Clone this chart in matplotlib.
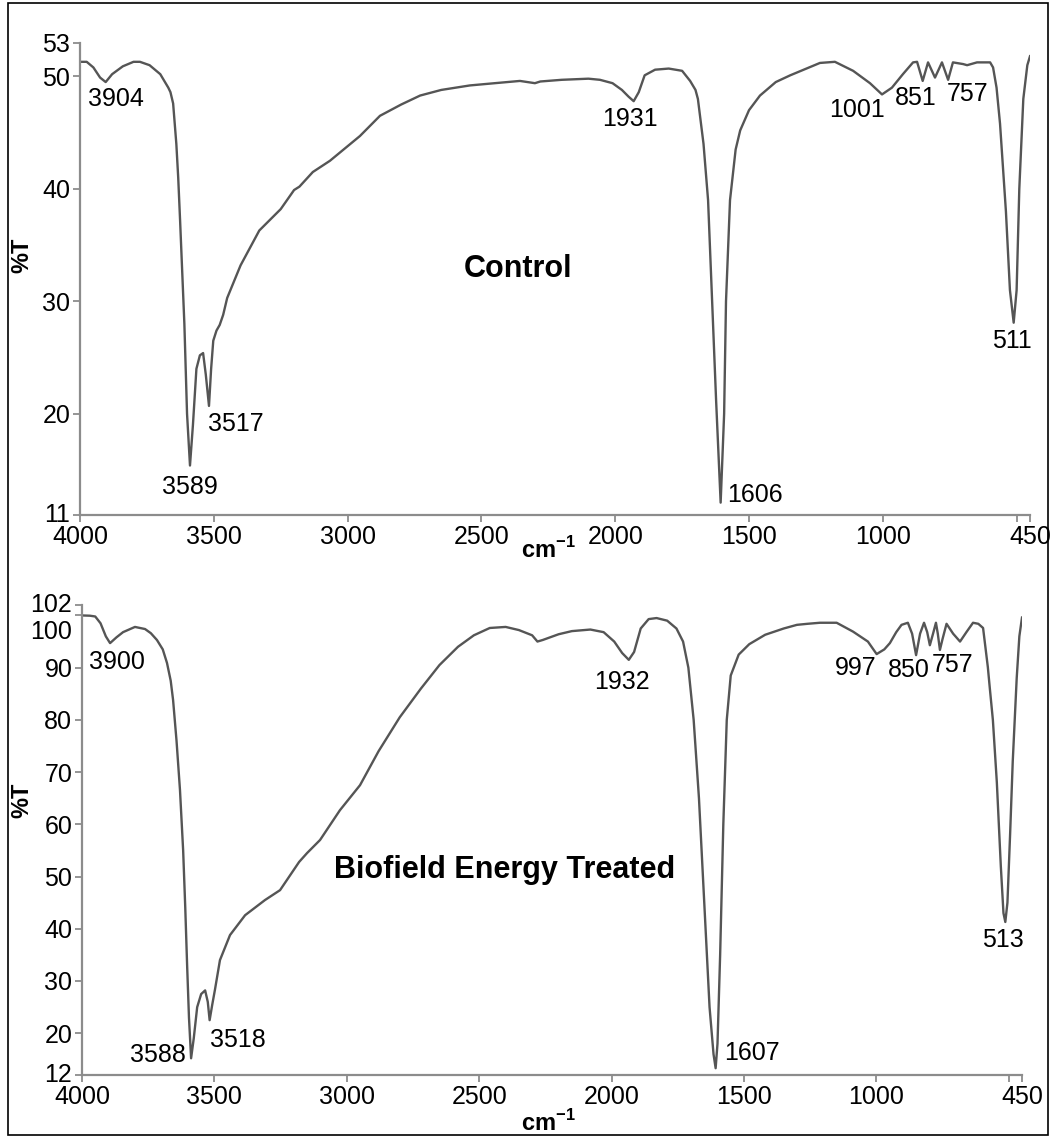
import numpy as np
import matplotlib
matplotlib.use('Agg')
import matplotlib.pyplot as plt
from matplotlib.patches import Rectangle
from matplotlib.transforms import ScaledTranslation

plt.rcParams['font.family'] = ['Liberation Sans', 'DejaVu Sans']
plt.rcParams['mathtext.fontset'] = 'custom'
plt.rcParams['mathtext.rm'] = 'Liberation Sans'
plt.rcParams['mathtext.bf'] = 'Liberation Sans:bold'

# Control spectrum (wavenumber cm-1, %T)
ctrl_wn = [4000, 3975, 3950, 3925, 3904, 3880, 3840, 3800, 3776, 3740, 3700, 3670,
           3662, 3652, 3640, 3633, 3626, 3610, 3600, 3589, 3578, 3565, 3552, 3540, 3530, 3518,
           3510, 3502, 3490, 3478, 3465, 3450, 3400, 3330, 3250, 3200, 3180, 3130,
           3066, 2954, 2879, 2800, 2729, 2650, 2543, 2450, 2356, 2300, 2280, 2200,
           2100, 2057, 2010, 1975, 1950, 1931, 1912, 1890, 1851, 1800, 1750, 1720,
           1700, 1691, 1670, 1653, 1638, 1623, 1606, 1593, 1586, 1571, 1550, 1533, 1500, 1459, 1400, 1346,
           1235, 1179, 1111, 1048, 1003, 966, 925, 887, 872, 851, 831, 805, 779,
           756, 738, 700, 685, 648, 599, 588, 575, 562, 540, 525, 511, 500, 490, 475,
           460, 450]
ctrl_t = [51.3, 51.3, 50.8, 49.9, 49.5, 50.2, 50.9, 51.3, 51.3, 51.0, 50.2, 49.0,
          48.6, 47.6, 44.0, 41.0, 37.2, 28.0, 20.0, 15.4, 19.0, 24.0, 25.2, 25.4, 23.5, 20.7,
          24.0, 26.5, 27.4, 27.9, 28.8, 30.3, 33.2, 36.3, 38.2, 39.9, 40.2, 41.5,
          42.5, 44.7, 46.5, 47.5, 48.3, 48.8, 49.2, 49.4, 49.6, 49.4, 49.55, 49.7,
          49.8, 49.7, 49.4, 48.8, 48.2, 47.8, 48.6, 50.1, 50.6, 50.7, 50.5, 49.6,
          48.8, 48.0, 44.0, 39.0, 30.1, 21.2, 12.1, 20.0, 30.0, 39.0, 43.5, 45.2, 47.0, 48.3, 49.5, 50.1,
          51.2, 51.3, 50.5, 49.4, 48.4, 49.0, 50.2, 51.25, 51.3, 49.6, 51.25, 49.9, 51.25,
          49.7, 51.25, 51.1, 51.0, 51.25, 51.25, 50.8, 49.0, 45.8, 38.0, 31.0, 28.1, 31.0, 40.0,
          48.0, 51.0, 51.8]

# Biofield energy treated spectrum
treat_wn = [4000, 3970, 3950, 3930, 3910, 3894, 3870, 3845, 3800, 3762, 3740, 3717,
            3695, 3679, 3665, 3656, 3643, 3630, 3618, 3610, 3603, 3596, 3588, 3578,
            3565, 3550, 3535, 3525, 3518, 3508, 3498, 3479, 3441, 3384, 3309, 3252,
            3200, 3180, 3150, 3101, 3026, 2950, 2880, 2800, 2720, 2650, 2580, 2520,
            2460, 2400, 2350, 2300, 2280, 2260, 2200, 2150, 2080, 2030, 1990, 1960,
            1935, 1915, 1890, 1860, 1830, 1790, 1755, 1730, 1710, 1690, 1670, 1650,
            1630, 1615, 1607, 1600, 1590, 1578, 1565, 1550, 1520, 1480, 1420, 1350,
            1300, 1260, 1213, 1150, 1088, 1032, 999, 970, 949, 925, 905, 881, 865,
            850, 835, 820, 808, 798, 786, 775, 768, 760, 750, 735, 710, 684, 660,
            635, 615, 597, 579, 572, 560, 545, 530, 520, 513, 505, 495, 485, 470,
            460, 450]
treat_t = [100.0, 99.95, 99.8, 98.5, 96.0, 94.7, 95.8, 96.8, 97.8, 97.4, 96.6, 95.3,
           93.5, 90.9, 87.5, 83.8, 76.0, 66.6, 55.0, 44.0, 33.0, 23.0, 15.2, 19.0,
           25.0, 27.5, 28.2, 26.0, 22.5, 25.5, 28.3, 34.0, 38.8, 42.6, 45.5, 47.4,
           51.3, 52.8, 54.5, 57.0, 62.7, 67.5, 74.0, 80.5, 86.0, 90.5, 94.0, 96.2,
           97.6, 97.8, 97.2, 96.2, 95.0, 95.3, 96.4, 97.0, 97.3, 96.8, 95.0, 92.8,
           91.5, 93.0, 97.5, 99.3, 99.5, 99.0, 97.5, 95.0, 90.0, 80.0, 65.0, 45.0,
           25.0, 16.0, 13.3, 18.0, 35.0, 60.0, 80.0, 88.5, 92.5, 94.5, 96.3, 97.5,
           98.2, 98.4, 98.6, 98.6, 96.9, 95.0, 92.6, 93.5, 94.7, 96.8, 98.2, 98.6, 96.5,
           92.4, 96.5, 98.6, 96.8, 94.3, 96.5, 98.6, 96.5, 93.4, 95.5, 98.4, 96.5, 95.0, 96.8,
           98.6, 98.4, 97.6, 90.1, 86.3, 80.0, 68.0, 52.0, 43.0, 41.3, 45.0, 58.0, 72.0, 88.0,
           96.0, 99.6]

x_ticks = [4000, 3500, 3000, 2500, 2000, 1500, 1000, 500, 450]
x_labels = ['4000', '3500', '3000', '2500', '2000', '1500', '1000', '', '450']
ctrl_yticks = [11, 20, 30, 40, 50, 53]
treat_yticks = [12, 20, 30, 40, 50, 60, 70, 80, 90, 100, 102]

# peak labels: text, wavenumber, %T
ctrl_peaks = [('3904', 3865, 48.0), ('3589', 3589, 13.5), ('3517', 3417, 19.1),
              ('1931', 1945, 46.25), ('1606', 1478, 12.8), ('1001', 1096, 47.0),
              ('851', 876, 48.1), ('757', 682, 48.4), ('511', 517, 26.5)]
treat_peaks = [('3900', 3869, 91.1), ('3588', 3713, 15.8), ('3518', 3411, 18.7),
               ('1932', 1961, 87.3), ('1607', 1470, 16.2), ('997', 1077, 89.9),
               ('850', 877, 89.55), ('757', 714, 90.5), ('513', 522, 37.85)]

W, H = 1052, 1138
fig = plt.figure(figsize=(W / 100, H / 100), dpi=100)
fig.patches.append(Rectangle((8 / W, 3 / H), 1040 / W, 1132 / H, transform=fig.transFigure,
                             fill=False, edgecolor='black', linewidth=1.2))

ax1 = fig.add_axes([80 / W, 1 - 515 / H, 950 / W, 472.3 / H])
ax2 = fig.add_axes([82 / W, 1 - 1075 / H, 940 / W, 470 / H])

line_col = '#555555'
axis_col = '#8c8c8c'


def style(ax, yticks, ylim):
    ax.set_xlim(4000, 450)
    ax.set_ylim(*ylim)
    for s in ['top', 'right']:
        ax.spines[s].set_visible(False)
    for s in ['left', 'bottom']:
        ax.spines[s].set_color(axis_col)
        ax.spines[s].set_linewidth(1.6)
    ax.set_xticks(x_ticks)
    ax.set_xticklabels(x_labels)
    ax.set_yticks(yticks)
    ax.set_yticklabels([str(v) for v in yticks])
    ax.tick_params(direction='out', length=5, width=1.3, color=axis_col,
                   labelsize=18, pad=2)
    ax.set_facecolor('none')


ax1.plot(ctrl_wn, ctrl_t, color=line_col, lw=1.7, solid_joinstyle='round')
style(ax1, ctrl_yticks, (11, 53))
for txt, w, t in ctrl_peaks:
    ax1.text(w, t, txt, fontsize=18, ha='center', va='center')
ax1.text(2363, 32.9, 'Control', fontsize=22, fontweight='bold', ha='center', va='center')

ax2.plot(treat_wn, treat_t, color=line_col, lw=1.7, solid_joinstyle='round')
style(ax2, treat_yticks, (12, 102))
for txt, w, t in treat_peaks:
    ax2.text(w, t, txt, fontsize=18, ha='center', va='center')
ax2.text(2403, 51.25, 'Biofield Energy Treated', fontsize=22, fontweight='bold',
         ha='center', va='center')

# nudge crowded labels at the corners of the axes
for lab in ax2.get_yticklabels():
    if lab.get_text() == '100':
        lab.set_transform(lab.get_transform() + ScaledTranslation(0, -0.14, fig.dpi_scale_trans))
    if lab.get_text() == '102':
        lab.set_transform(lab.get_transform() + ScaledTranslation(0, 0.03, fig.dpi_scale_trans))
    if lab.get_text() == '12':
        lab.set_transform(lab.get_transform() + ScaledTranslation(0, 0.03, fig.dpi_scale_trans))
for lab in ax1.get_yticklabels():
    if lab.get_text() == '11':
        lab.set_transform(lab.get_transform() + ScaledTranslation(0, 0.03, fig.dpi_scale_trans))

fig.text(22 / W, 1 - 255 / H, '%T', rotation=90, fontsize=17, fontweight='bold',
         ha='center', va='center')
fig.text(22 / W, 1 - 800 / H, '%T', rotation=90, fontsize=17, fontweight='bold',
         ha='center', va='center')
fig.text(548 / W, 1 - 550 / H, r'cm$^{\mathbf{-1}}$', fontsize=17, fontweight='bold',
         ha='center', va='center')
fig.text(548 / W, 1 - 1123 / H, r'cm$^{\mathbf{-1}}$', fontsize=17, fontweight='bold',
         ha='center', va='center')

fig.savefig('out.png', dpi=100)
